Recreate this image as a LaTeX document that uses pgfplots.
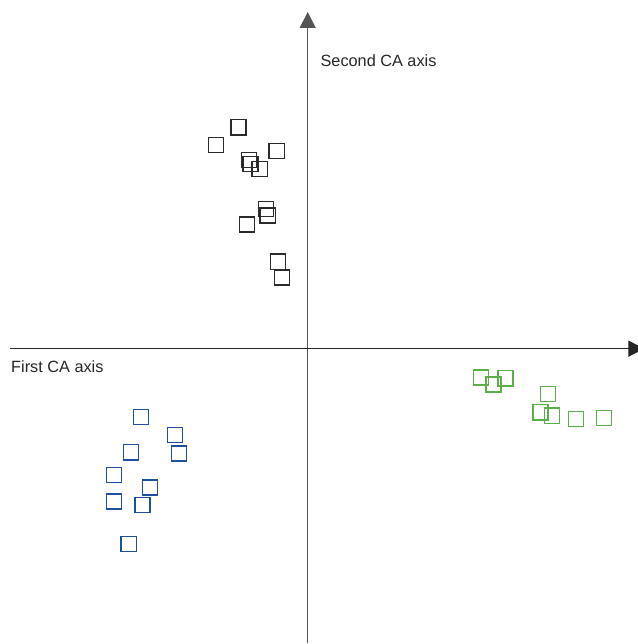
\documentclass[border=0pt]{standalone}
\usepackage{pgfplots}
\pgfplotsset{compat=1.18}
\usetikzlibrary{arrows.meta}
\usepackage{fontspec}
\setmainfont{Liberation Sans}
\definecolor{cblack}{HTML}{2B2B2B}
\definecolor{cblue}{HTML}{1F4E9A}
\definecolor{cgreen}{HTML}{5AAE4A}
\definecolor{caxis}{HTML}{555555}
\begin{document}
\begin{tikzpicture}
\begin{axis}[
  scale only axis, width=638pt, height=644pt,
  xmin=-308, xmax=330, ymin=-295, ymax=349,
  hide axis, clip=false,
]
\draw[draw=none] (rel axis cs:0,0) rectangle (rel axis cs:1,1);
% axes
\draw[caxis, line width=1.2pt, -{Triangle[length=16pt,width=16pt]}] (axis cs:0,-295) -- (axis cs:0,337);
\draw[black!85, line width=1.1pt, -{Triangle[length=16pt,width=16pt]}, overlay] (axis cs:-298,0) -- (axis cs:337,0);
\node[anchor=base west, font=\fontsize{16.3}{18}\selectfont, text=black!85, inner sep=0pt] at (axis cs:12.7,282.3) {Second CA axis};
\node[anchor=base west, font=\fontsize{16.3}{18}\selectfont, text=black!85, inner sep=0pt] at (axis cs:-297,-24.3) {First CA axis};
% black group
\addplot[only marks, mark=square, mark size=7.6pt, mark options={draw=cblack, line width=1.35pt}] table {
x y
-69.3 221.5
-91.7 204
-31 197.8
-59 189
-57.3 185
-48 179.8
-41.7 140
-40 133.3
-61 124.3
-29.7 87
-25.7 71.3
};
% blue group
\addplot[only marks, mark=square, mark size=7.6pt, mark options={draw=cblue, line width=1.35pt}] table {
x y
-166.7 -68.3
-133 -86.3
-177 -103.7
-129 -105
-193.7 -126.3
-158 -139
-194 -153
-165.3 -156.3
-179.3 -195.7
};
% green group
\addplot[only marks, mark=square, mark size=7.6pt, mark options={draw=cgreen, line width=1.35pt}] table {
x y
173.3 -28.8
186 -35.8
198 -29.7
240.3 -45.3
233 -63.7
244.3 -67
268.3 -70.2
296.7 -69.3
};
\end{axis}
\end{tikzpicture}
\end{document}
